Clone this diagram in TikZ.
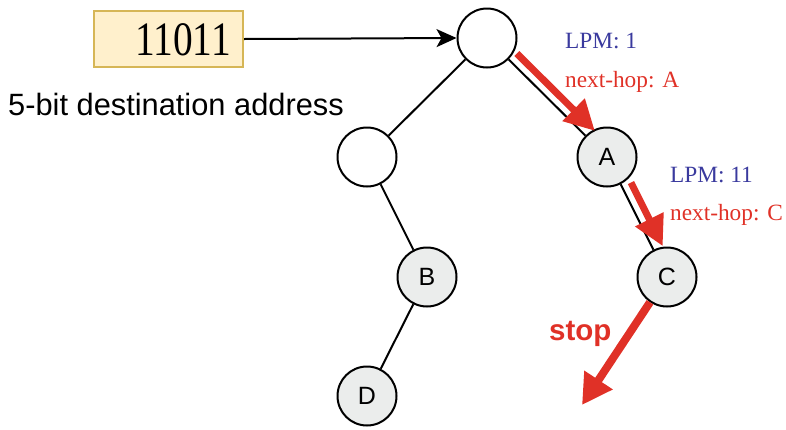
\documentclass[tikz,border=0pt]{standalone}
\usepackage{fontspec}
\setmainfont{Liberation Sans}
\newfontfamily\seriffont{Liberation Serif}
\usetikzlibrary{arrows.meta,calc}
\definecolor{boxfill}{HTML}{FFF0CC}
\definecolor{boxline}{HTML}{D6B656}
\definecolor{nodefill}{HTML}{EBEDEC}
\definecolor{lpmblue}{HTML}{3A3A9E}
\definecolor{hopred}{HTML}{E03127}
\tikzset{
  trienode/.style={circle,draw=black,line width=2pt,minimum size=59pt,inner sep=0pt,font=\fontsize{25}{25}\selectfont},
  emptynode/.style={trienode,fill=white},
  keynode/.style={trienode,fill=nodefill},
  trieedge/.style={line width=2pt,draw=black},
  walkarrow/.style={draw=hopred,line width=7pt,-{Triangle[width=30pt,length=30pt]}},
  lpmtext/.style={anchor=base west,inner sep=0pt,text=lpmblue,font=\seriffont\fontsize{23.3}{23.3}\selectfont},
  hoptext/.style={anchor=base west,inner sep=0pt,text=hopred,font=\seriffont\fontsize{23.3}{23.3}\selectfont},
}
\begin{document}
\begin{tikzpicture}[x=1pt,y=-1pt]
\useasboundingbox (0,0) rectangle (786,429);

% input address box
\node[draw=boxline,fill=boxfill,line width=2pt,minimum width=149pt,minimum height=56pt,inner sep=0pt,anchor=north west] (addr) at (93,10) {};
\node[anchor=base east,inner sep=0pt,font=\seriffont\fontsize{48}{48}\selectfont] (bits) at (231,55) {\scalebox{0.82}[1]{11011}};
\node[anchor=base west,inner sep=0pt,font=\fontsize{30.8}{30.8}\selectfont] (caption) at (8,115) {5-bit destination address};

% trie nodes
\node[emptynode] (root) at (487,38) {};
\node[emptynode] (n0) at (367,157) {};
\node[keynode] (A) at (607,157) {A};
\node[keynode] (B) at (427,277) {B};
\node[keynode] (C) at (667,277) {C};
\node[keynode] (D) at (367,396) {D};

% trie edges
\draw[trieedge] (root) -- (n0);
\draw[trieedge] (root) -- (A);
\draw[trieedge] (n0) -- (B);
\draw[trieedge] (B) -- (D);
\draw[trieedge] (A) -- (C);

% address fed into the root
\draw[line width=2pt,-{Stealth[length=20pt,width=18pt,inset=5pt]}] (addr.east) -- (root.west);

% lookup walk
\coordinate (w1s) at ($(root)!0.19!(A)!10pt!90:(A)$);
\coordinate (w1e) at ($(root)!0.84!(A)!10pt!90:(A)$);
\coordinate (w2s) at ($(A)!0.25!(C)!10pt!90:(C)$);
\coordinate (w2e) at ($(A)!0.78!(C)!10pt!90:(C)$);
\draw[walkarrow] (w1s) -- (w1e);
\draw[walkarrow] (w2s) -- (w2e);
\coordinate (stopend) at (582,405);
\draw[draw=hopred,line width=8pt,-{Triangle[width=32pt,length=30pt]}] (C.236) -- (stopend);

% labels
\node[lpmtext] (lpm1) at (565,48) {LPM: 1};
\node[hoptext] (hop1) at (565,87) {next-hop: A};
\node[lpmtext] (lpm2) at (670,182) {LPM: 11};
\node[hoptext] (hop2) at (670,220) {next-hop: C};
\node[anchor=base west,inner sep=0pt,text=hopred,font=\bfseries\fontsize{29.5}{29.5}\selectfont] (stoplbl) at (549,340) {stop};
\end{tikzpicture}
\end{document}
